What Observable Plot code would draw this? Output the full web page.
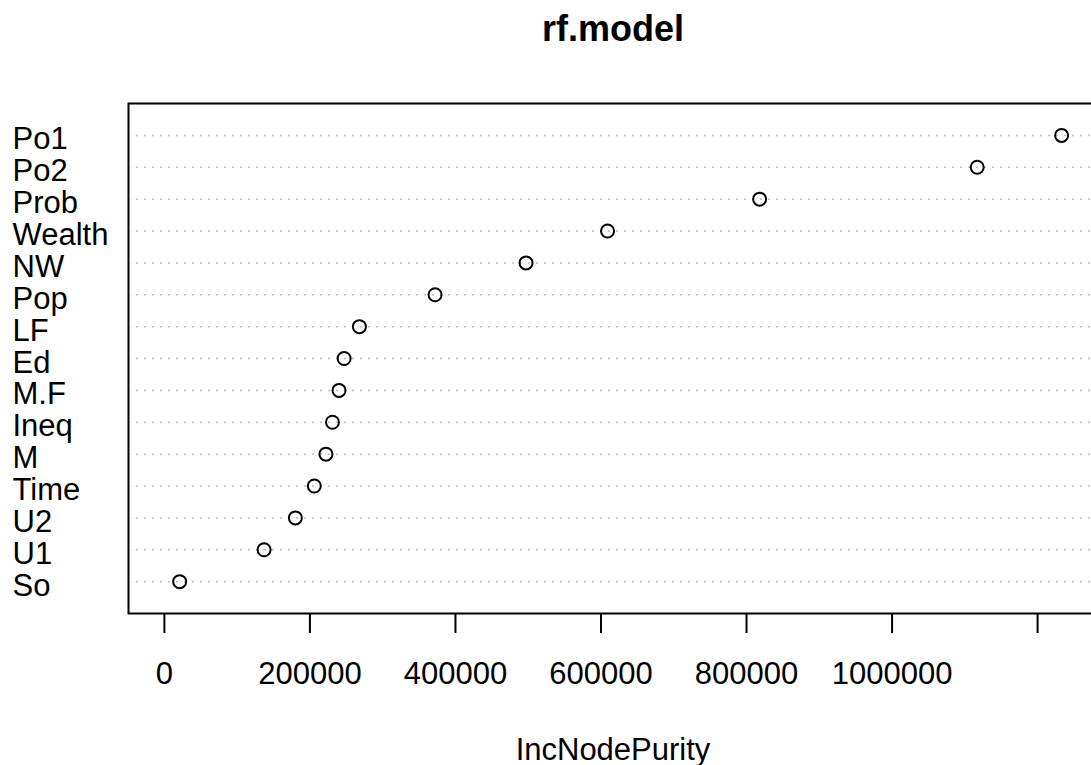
<!DOCTYPE html>
<html>
<head>
<meta charset="utf-8">
<script src="https://cdn.jsdelivr.net/npm/d3@7"></script>
<script src="https://cdn.jsdelivr.net/npm/@observablehq/plot@0.6"></script>
<style>
  html, body { margin: 0; padding: 0; background: #fff; overflow: hidden; }
  #chart svg { max-width: none !important; }
</style>
</head>
<body>
<div id="chart"></div>
<script>
const variables = ["Po1","Po2","Prob","Wealth","NW","Pop","LF","Ed","M.F","Ineq","M","Time","U2","U1","So"];
const incNodePurity = [1233000,1117000,818000,609000,497000,372000,268000,247000,240000,231000,222000,206000,180000,137000,21000];
const tickValues = [0,200000,400000,600000,800000,1000000,1200000];
const tickLabels = ["0","200000","400000","600000","800000","1000000",""];
const title = "rf.model";
const xLabel = "IncNodePurity";

const data = variables.map((v, i) => ({name: v, value: incNodePurity[i]}));
const maxV = d3.max(incNodePurity);
const xDomain = [-0.04 * maxV, 1.04 * maxV];

const font = "'Liberation Sans', Arial, Helvetica, sans-serif";

const plot = Plot.plot({
  width: 1100,
  height: 765,
  marginTop: 103,
  marginBottom: 152,
  marginLeft: 128,
  marginRight: 3,
  style: {fontFamily: font, fontSize: "31px", color: "black", background: "white", maxWidth: "none"},
  x: {domain: xDomain, axis: null},
  y: {type: "point", domain: variables, padding: 1, round: false, axis: null},
  marks: [
    Plot.ruleY(variables, {y: d => d, stroke: "#bdbdbd", strokeWidth: 1.5, strokeDasharray: "2 6"}),
    Plot.axisX({
      ticks: tickValues,
      tickSize: 20,
      tickPadding: 28,
      tickFormat: (d, i) => tickLabels[tickValues.indexOf(d)],
      strokeWidth: 2,
      fontSize: 31,
      label: null
    }),
    Plot.text(variables, {
      y: d => d, text: d => d, frameAnchor: "left", dx: -116,
      textAnchor: "start", lineAnchor: "bottom", dy: 14, fontSize: 31, fill: "black"
    }),
    Plot.dot(data, {x: "value", y: "name", r: 6.5, stroke: "black", strokeWidth: 2, fill: "none"}),
    Plot.frame({stroke: "black", strokeWidth: 2}),
    Plot.text([title], {frameAnchor: "top", dy: -63, lineAnchor: "bottom", text: d => d, fontSize: 36, fontWeight: "bold", fill: "black"}),
    Plot.text([xLabel], {frameAnchor: "bottom", dy: 146, lineAnchor: "bottom", text: d => d, fontSize: 31, fill: "black"})
  ]
});
document.getElementById("chart").appendChild(plot);
</script>
</body>
</html>
